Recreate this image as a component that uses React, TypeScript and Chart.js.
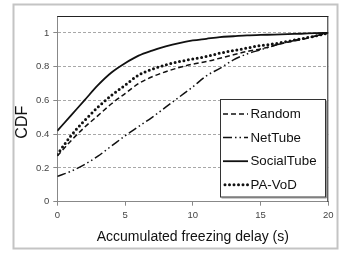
import React, { useEffect, useRef } from "react";
import { Chart, registerables } from "chart.js";

Chart.register(...registerables);

const delays = [0, 1, 2, 3, 4, 5, 6, 7, 8, 9, 10, 11, 12, 13, 14, 15, 16, 17, 18, 19, 20];
const random = [0.27, 0.36, 0.44, 0.51, 0.58, 0.64, 0.7, 0.74, 0.77, 0.795, 0.815, 0.83, 0.85, 0.87, 0.89, 0.905, 0.925, 0.945, 0.96, 0.98, 1.0];
const netTube = [0.15, 0.18, 0.22, 0.27, 0.33, 0.39, 0.445, 0.5, 0.56, 0.62, 0.68, 0.745, 0.79, 0.84, 0.875, 0.9, 0.925, 0.945, 0.965, 0.98, 1.0];
const socialTube = [0.42, 0.51, 0.6, 0.69, 0.765, 0.82, 0.865, 0.895, 0.92, 0.94, 0.955, 0.965, 0.975, 0.98, 0.985, 0.988, 0.99, 0.993, 0.995, 0.998, 1.0];
const paVod = [0.28, 0.39, 0.48, 0.56, 0.63, 0.69, 0.75, 0.785, 0.81, 0.83, 0.845, 0.86, 0.88, 0.895, 0.91, 0.925, 0.935, 0.95, 0.965, 0.98, 1.0];
const seriesLabels = ["Random", "NetTube", "SocialTube", "PA-VoD"];
const xTicks = [0, 5, 10, 15, 20];
const yTicks = [0, 0.2, 0.4, 0.6, 0.8, 1];

const FONT = "'Liberation Sans', Arial, sans-serif";

const W = 344;
const H = 253;
const AREA = { left: 57.3, top: 16, right: 328.3, bottom: 201.7 };

function pts(vals: number[]) {
  return delays.map((d, i) => ({ x: d, y: vals[i] }));
}

const framePlugin = {
  id: "frame",
  beforeDraw(chart: any) {
    const ctx = chart.ctx;
    ctx.save();
    ctx.fillStyle = "#ffffff";
    ctx.fillRect(0, 0, W, H);
    ctx.strokeStyle = "#c4c4c4";
    ctx.lineWidth = 2;
    ctx.strokeRect(13.5, 4.5, 324, 244);
    ctx.restore();
  },
  afterDatasetsDraw(chart: any) {
    const ctx = chart.ctx;
    const a = chart.chartArea;
    ctx.save();
    ctx.strokeStyle = "#222";
    ctx.lineWidth = 1;
    ctx.beginPath();
    ctx.moveTo(a.left, a.top + 0.5);
    ctx.lineTo(a.right, a.top + 0.5);
    ctx.moveTo(a.right - 0.5, a.top);
    ctx.lineTo(a.right - 0.5, a.bottom);
    ctx.stroke();
    ctx.restore();
  },
  afterDraw(chart: any) {
    const ctx = chart.ctx;
    const bx = 220.5, by = 99.5, bw = 105, bh = 97.5;
    ctx.save();
    ctx.fillStyle = "#fff";
    ctx.fillRect(bx, by, bw, bh);
    ctx.strokeStyle = "#9a9a9a";
    ctx.lineWidth = 1;
    ctx.beginPath();
    ctx.moveTo(bx + bw + 1, by + 1);
    ctx.lineTo(bx + bw + 1, by + bh + 1);
    ctx.lineTo(bx + 1, by + bh + 1);
    ctx.stroke();
    ctx.strokeStyle = "#333";
    ctx.strokeRect(bx, by, bw, bh);
    chart.data.datasets.forEach((ds: any, i: number) => {
      const y = 114 + i * 23.6;
      ctx.save();
      ctx.strokeStyle = ds.borderColor;
      ctx.lineWidth = ds.borderWidth;
      ctx.lineCap = ds.borderCapStyle || "butt";
      ctx.setLineDash(ds.borderDash || []);
      ctx.beginPath();
      ctx.moveTo(i === 3 ? 225 : 223, y);
      ctx.lineTo(248, y);
      ctx.stroke();
      ctx.restore();
      ctx.fillStyle = "#111";
      ctx.font = "13.3px " + FONT;
      ctx.textBaseline = "middle";
      ctx.textAlign = "left";
      ctx.fillText(ds.label, 250.5, y + 0.5);
    });
    ctx.restore();
  },
};

export default function App() {
  const ref = useRef<HTMLCanvasElement | null>(null);
  useEffect(() => {
    if (!ref.current) return;
    const chart = new Chart(ref.current, {
      type: "line",
      data: {
        datasets: [
          { label: seriesLabels[0], data: pts(random), borderColor: "#111", borderWidth: 1.5, borderDash: [5, 3] },
          { label: seriesLabels[1], data: pts(netTube), borderColor: "#111", borderWidth: 1.5, borderDash: [9, 3, 1.5, 3, 1.5, 3] },
          { label: seriesLabels[2], data: pts(socialTube), borderColor: "#111", borderWidth: 1.8 },
          { label: seriesLabels[3], data: pts(paVod), borderColor: "#111", borderWidth: 3, borderDash: [0, 4.5], borderCapStyle: "round" },
        ] as any,
      },
      options: {
        animation: false,
        responsive: false,
        devicePixelRatio: 1,
        elements: { point: { radius: 0 }, line: { tension: 0.4, cubicInterpolationMode: "monotone" } },
        layout: { padding: { left: 0, right: W - AREA.right, top: AREA.top, bottom: 0 } },
        plugins: { legend: { display: false }, tooltip: { enabled: false } },
        scales: {
          x: {
            type: "linear",
            min: 0,
            max: 20,
            afterBuildTicks: (s: any) => { s.ticks = xTicks.map((v) => ({ value: v })); },
            afterFit: (s: any) => { s.height = H - AREA.bottom; },
            ticks: { color: "#444", font: { family: FONT, size: 9.5 }, padding: 4, maxRotation: 0 },
            grid: { drawOnChartArea: false, drawTicks: true, tickLength: 4, color: "#888", tickColor: "#888" },
            border: { display: true, color: "#888", width: 1 },
            title: { display: true, text: "Accumulated freezing delay (s)", color: "#111", font: { family: FONT, size: 14 }, padding: { top: 0, bottom: 7 } },
          },
          y: {
            type: "linear",
            min: 0,
            max: 1.1,
            afterBuildTicks: (s: any) => { s.ticks = yTicks.map((v) => ({ value: v })); },
            afterFit: (s: any) => { s.width = AREA.left; },
            ticks: { color: "#444", font: { family: FONT, size: 9.5 }, padding: 4, callback: (v: any) => String(Math.round(Number(v) * 10) / 10) },
            grid: { color: "#a8a8a8", tickLength: 4, tickColor: "#888", tickBorderDash: [] },
            border: { display: true, color: "#888", width: 1, dash: [3, 2] },
            title: { display: true, text: "CDF      ", color: "#111", font: { family: FONT, size: 16 }, padding: { top: 13.4, bottom: 0 } },
          },
        },
      } as any,
      plugins: [framePlugin],
    });
    return () => chart.destroy();
  }, []);
  return (
    <div style={{ position: "fixed", left: 0, top: 0, width: W, height: H }}>
      <canvas ref={ref} width={W} height={H} style={{ width: W, height: H, display: "block" }} />
    </div>
  );
}
